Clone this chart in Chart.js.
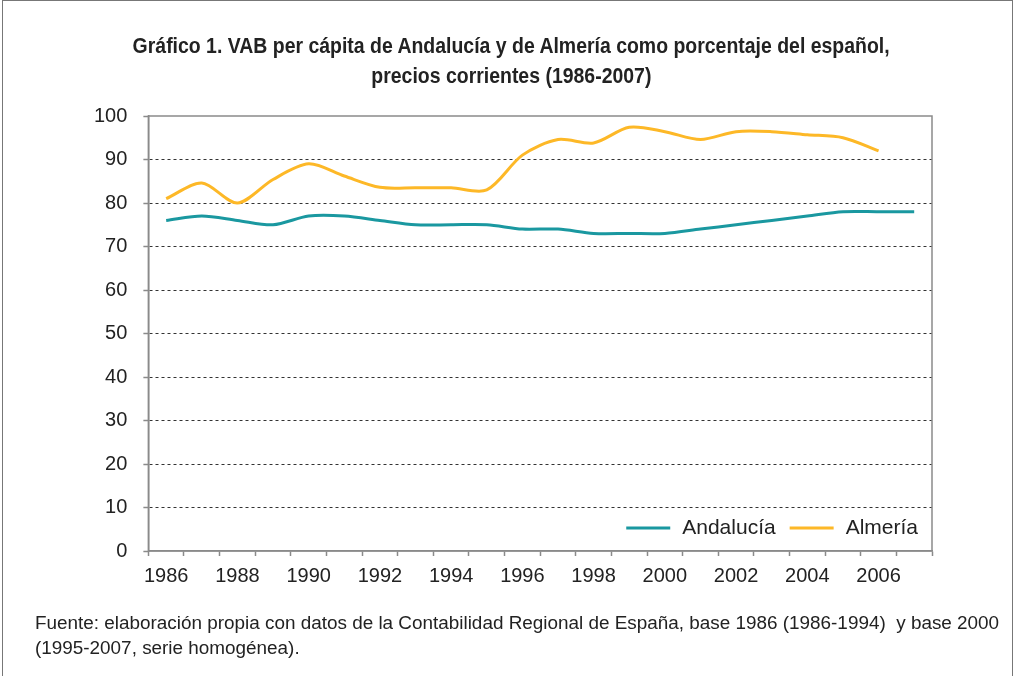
<!DOCTYPE html>
<html>
<head>
<meta charset="utf-8">
<script src="https://cdn.jsdelivr.net/npm/chart.js@4.4.1/dist/chart.umd.min.js"></script>
<style>
  body { margin: 0; background: #fff; }
  #wrap { position: relative; width: 1019px; height: 676px; overflow: hidden; }
  #frame { position: absolute; left: 2px; top: 0; width: 1009px; height: 690px; border: 1.5px solid #777; }
  #titulo { position: absolute; left: 0; top: 31px; width: 1022px; text-align: center;
            font: bold 22px "Liberation Sans", Arial, sans-serif;
            line-height: 30px; color: #222; }
  #titulo span { display: inline-block; white-space: nowrap; }
  #fuente { position: absolute; left: 35px; top: 610px; font: 18.9px "Liberation Sans", Arial, sans-serif;
            line-height: 25px; color: #222; }
  canvas { position: absolute; left: 0; top: 0; }
</style>
</head>
<body>
<div id="wrap">
  <div id="frame"></div>
  <canvas id="grafico" width="1019" height="676"></canvas>
  <div id="titulo"><span id="t1">Gráfico 1. VAB per cápita de Andalucía y de Almería como porcentaje del español,</span><br><span id="t2">precios corrientes (1986-2007)</span></div>
  <div id="fuente">Fuente: elaboración propia con datos de la Contabilidad Regional de España, base 1986 (1986-1994)&nbsp; y base 2000<br>(1995-2007, serie homogénea).</div>
</div>
<script>
// datos
const years = ['1986', '1987', '1988', '1989', '1990', '1991', '1992', '1993', '1994', '1995', '1996',
               '1997', '1998', '1999', '2000', '2001', '2002', '2003', '2004', '2005', '2006', '2007'];
const andalucia = [76, 77, 76, 75, 77, 77, 76, 75, 75, 75, 74, 74, 73, 73, 73, 74, 75, 76, 77, 78, 78, 78];
const almeria = [81, 84.6, 80, 85.4, 89, 86.2, 83.6, 83.5, 83.5, 83, 91, 94.6, 93.8, 97.4, 96.4,
                 94.6, 96.4, 96.4, 95.7, 95.0, 92.0];
const yTicks = [0, 10, 20, 30, 40, 50, 60, 70, 80, 90, 100];

const tickFont = { family: '"Liberation Sans", Arial, sans-serif', size: 20 };

// título estrecho: se comprime en horizontal (no hay Arial Narrow)
const t1 = document.getElementById('t1'), t2 = document.getElementById('t2');
const k = 757 / t1.getBoundingClientRect().width;
[t1, t2].forEach(s => { s.style.transform = 'scaleX(' + k + ')'; });

// marco gris del área de trazado
const marco = {
  id: 'marco',
  beforeDatasetsDraw(chart) {
    const a = chart.chartArea, ctx = chart.ctx;
    ctx.save();
    ctx.strokeStyle = '#8a8a8a';
    ctx.lineWidth = 1.5;
    ctx.strokeRect(a.left, a.top, a.right - a.left, a.bottom - a.top);
    ctx.restore();
  }
};

// leyenda dentro del gráfico, abajo a la derecha
const leyenda = {
  id: 'leyenda',
  afterDatasetsDraw(chart) {
    const a = chart.chartArea, ctx = chart.ctx;
    ctx.save();
    ctx.font = '21px "Liberation Sans", Arial, sans-serif';
    ctx.textBaseline = 'middle';
    ctx.fillStyle = '#222';
    const y = a.bottom - 23;
    let x = a.right - 14;
    const sets = chart.data.datasets.slice().reverse();
    sets.forEach(ds => {
      const w = ctx.measureText(ds.label).width;
      x -= w;
      ctx.fillText(ds.label, x, y);
      x -= 12;
      ctx.strokeStyle = ds.borderColor;
      ctx.lineWidth = 3;
      ctx.beginPath();
      ctx.moveTo(x - 44, y);
      ctx.lineTo(x, y);
      ctx.stroke();
      x -= 44 + 14;
    });
    ctx.restore();
  }
};

new Chart(document.getElementById('grafico'), {
  type: 'line',
  data: {
    labels: years,
    datasets: [
      { label: 'Andalucía', data: andalucia, borderColor: '#1a98a0', borderWidth: 3,
        pointRadius: 0, tension: 0.3, fill: false },
      { label: 'Almería', data: almeria, borderColor: '#fdb827', borderWidth: 3,
        pointRadius: 0, tension: 0.3, fill: false }
    ]
  },
  options: {
    responsive: false,
    animation: false,
    layout: { padding: { left: 78, right: 87, top: 116, bottom: 80 } },
    plugins: {
      legend: { display: false },
      title: { display: false },
      tooltip: { enabled: false }
    },
    scales: {
      x: {
        type: 'category',
        offset: true,
        grid: { offset: true, drawOnChartArea: false, drawTicks: true, tickLength: 5,
                tickColor: '#8a8a8a', tickWidth: 1.5 },
        border: { display: true, color: '#8a8a8a', width: 1.5 },
        ticks: {
          autoSkip: false, maxRotation: 0, padding: 8, color: '#222', font: tickFont,
          callback: function (v, i) { return i % 2 === 0 ? this.getLabelForValue(v) : ''; }
        }
      },
      y: {
        min: 0, max: 100,
        afterBuildTicks: axis => { axis.ticks = yTicks.map(v => ({ value: v })); },
        grid: {
          color: ctx => (ctx.tick && (ctx.tick.value === 0 || ctx.tick.value === 100)) ? 'rgba(0,0,0,0)' : '#333',
          lineWidth: 1, drawTicks: true, tickLength: 5, tickColor: '#8a8a8a', tickWidth: 1.5,
          tickBorderDash: []
        },
        border: { display: true, color: '#8a8a8a', width: 1.5, dash: [3, 3] },
        ticks: { padding: 16, color: '#222', font: tickFont }
      }
    }
  },
  plugins: [marco, leyenda]
});
</script>
</body>
</html>
